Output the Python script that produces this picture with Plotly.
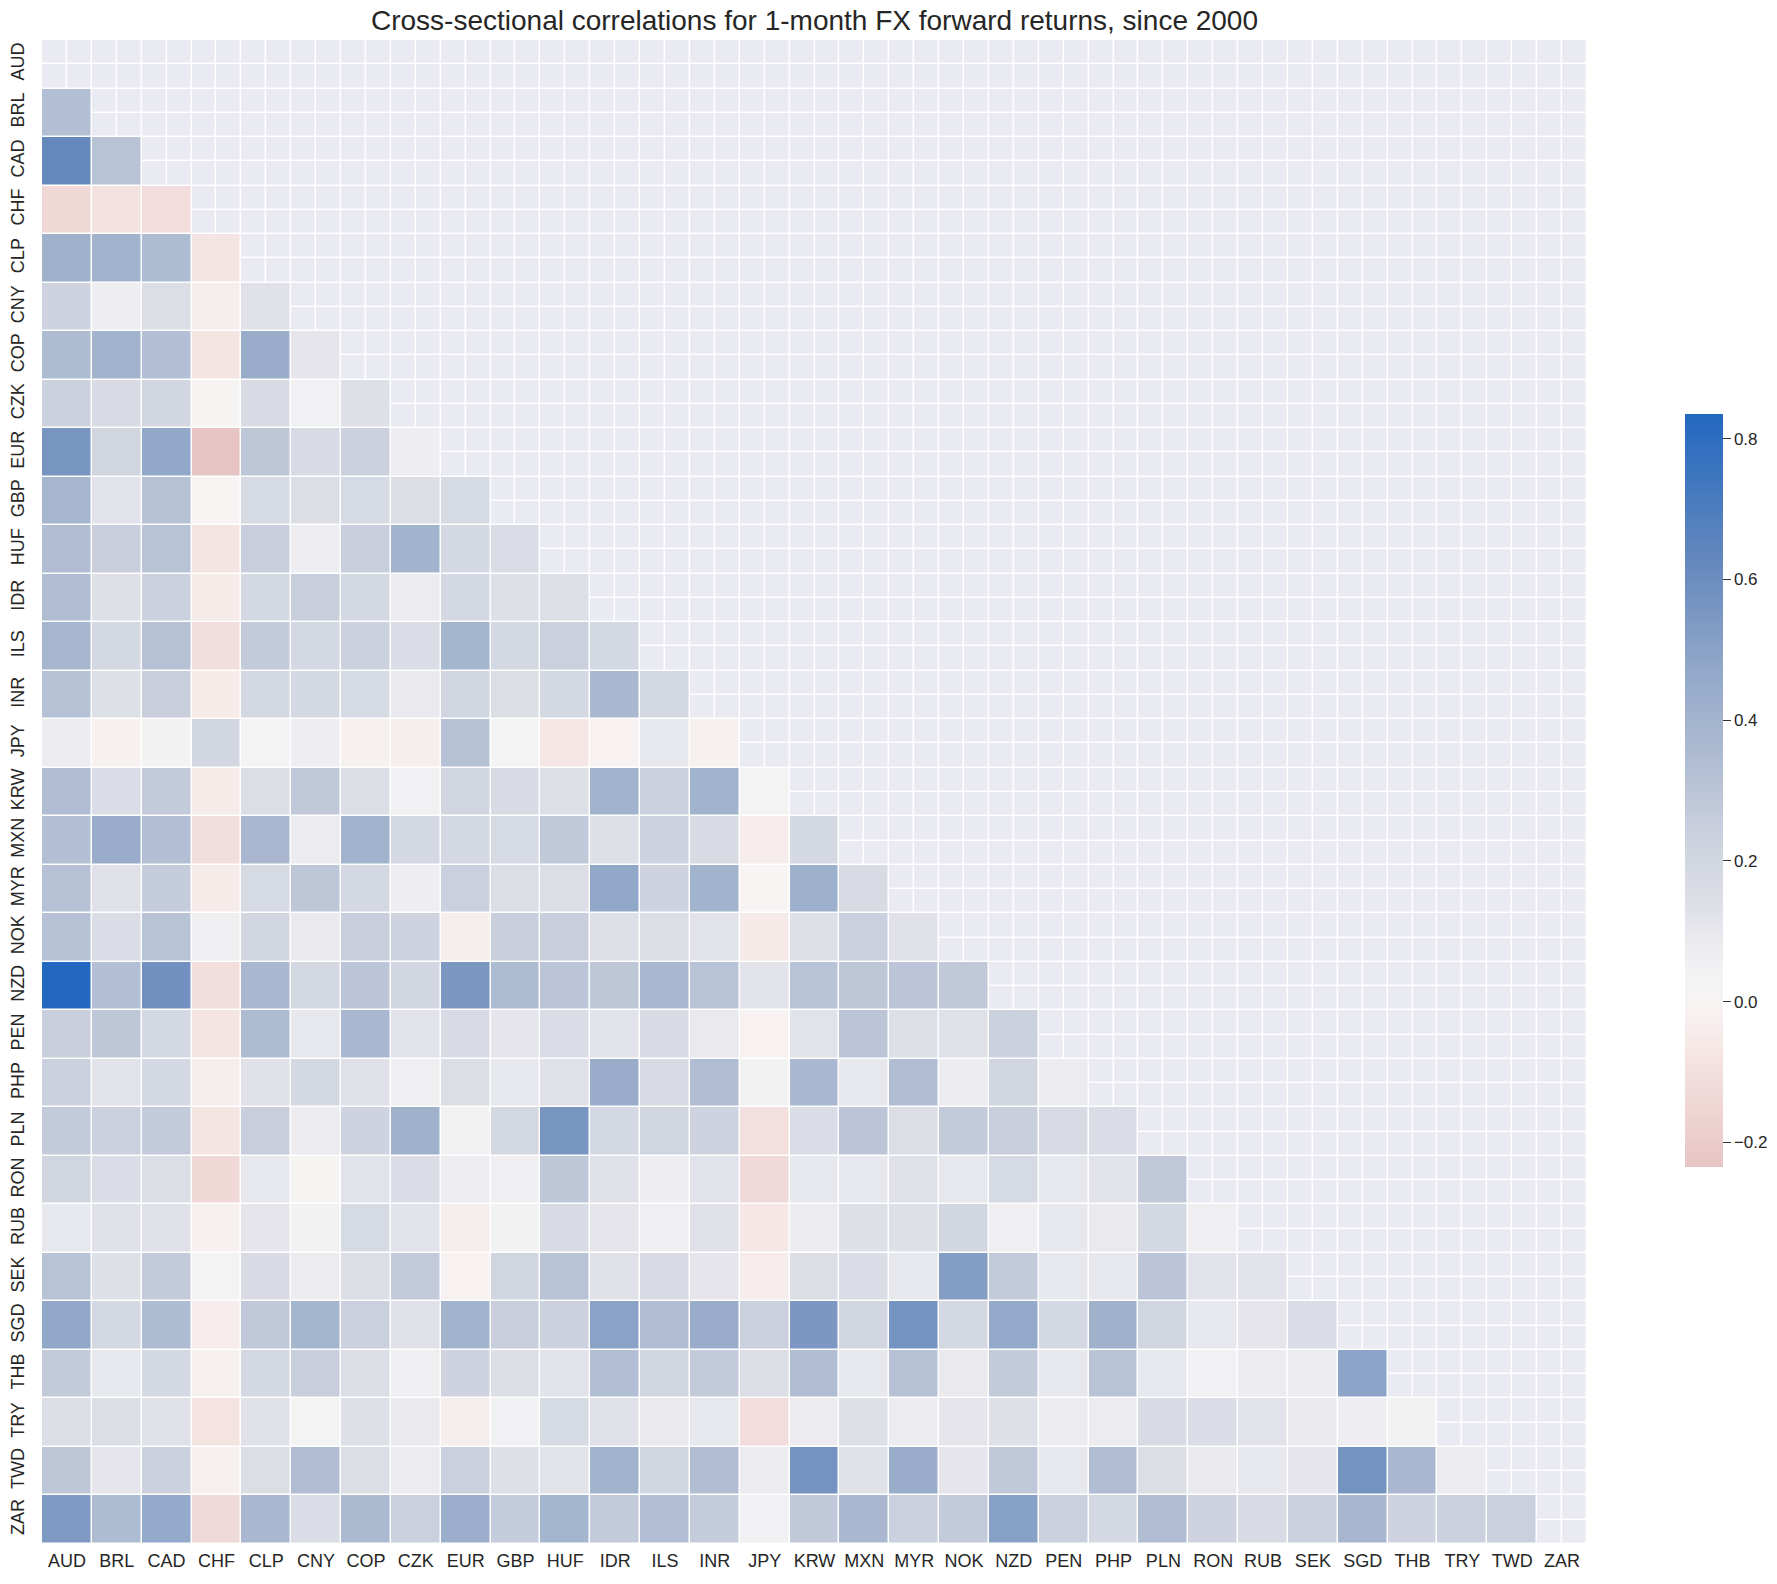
import plotly.graph_objects as go

currencies = ["AUD", "BRL", "CAD", "CHF", "CLP", "CNY", "COP", "CZK", "EUR", "GBP",
              "HUF", "IDR", "ILS", "INR", "JPY", "KRW", "MXN", "MYR", "NOK", "NZD",
              "PEN", "PHP", "PLN", "RON", "RUB", "SEK", "SGD", "THB", "TRY", "TWD", "ZAR"]

# lower-triangle correlations, one list per row (columns AUD.. up to the column before the row)
row_AUD = []
row_BRL = [0.33]
row_CAD = [0.62, 0.31]
row_CHF = [-0.14, -0.09, -0.115]
row_CLP = [0.41, 0.40, 0.35, -0.075]
row_CNY = [0.22, 0.07, 0.15, -0.03, 0.13]
row_COP = [0.35, 0.40, 0.33, -0.075, 0.44, 0.11]
row_CZK = [0.23, 0.17, 0.20, 0.01, 0.17, 0.05, 0.14]
row_EUR = [0.56, 0.21, 0.47, -0.235, 0.29, 0.17, 0.23, 0.07]
row_GBP = [0.38, 0.12, 0.32, 0.0, 0.18, 0.15, 0.18, 0.15, 0.18]
row_HUF = [0.34, 0.25, 0.31, -0.075, 0.25, 0.07, 0.25, 0.40, 0.19, 0.16]
row_IDR = [0.34, 0.14, 0.24, -0.045, 0.19, 0.25, 0.19, 0.08, 0.19, 0.14, 0.14]
row_ILS = [0.38, 0.19, 0.32, -0.105, 0.27, 0.19, 0.23, 0.16, 0.39, 0.19, 0.24, 0.19]
row_INR = [0.32, 0.14, 0.25, -0.047, 0.19, 0.19, 0.18, 0.09, 0.21, 0.15, 0.19, 0.37, 0.19]
row_JPY = [0.08, -0.02, 0.04, 0.20, 0.03, 0.07, -0.02, -0.03, 0.32, 0.03, -0.07, -0.01, 0.10, -0.02]
row_KRW = [0.34, 0.16, 0.27, -0.045, 0.15, 0.28, 0.15, 0.05, 0.21, 0.17, 0.14, 0.40, 0.23, 0.40, 0.03]
row_MXN = [0.33, 0.44, 0.33, -0.105, 0.37, 0.08, 0.40, 0.19, 0.19, 0.18, 0.28, 0.14, 0.22, 0.17, -0.04, 0.19]
row_MYR = [0.32, 0.13, 0.26, -0.045, 0.18, 0.29, 0.19, 0.07, 0.24, 0.15, 0.15, 0.47, 0.22, 0.40, 0.0, 0.42, 0.17]
row_NOK = [0.32, 0.16, 0.31, 0.06, 0.20, 0.09, 0.25, 0.22, -0.03, 0.25, 0.25, 0.14, 0.15, 0.12, -0.05, 0.14, 0.24, 0.13]
row_NZD = [0.835, 0.33, 0.58, -0.105, 0.37, 0.19, 0.30, 0.20, 0.55, 0.35, 0.30, 0.29, 0.37, 0.31, 0.12, 0.31, 0.29, 0.30, 0.28]
row_PEN = [0.25, 0.29, 0.19, -0.075, 0.35, 0.10, 0.37, 0.12, 0.17, 0.11, 0.16, 0.12, 0.17, 0.09, -0.01, 0.12, 0.30, 0.14, 0.13, 0.23]
row_PHP = [0.24, 0.12, 0.19, -0.03, 0.13, 0.19, 0.13, 0.06, 0.15, 0.10, 0.13, 0.44, 0.17, 0.34, 0.04, 0.37, 0.10, 0.34, 0.08, 0.21, 0.08]
row_PLN = [0.27, 0.24, 0.27, -0.08, 0.25, 0.08, 0.22, 0.41, 0.04, 0.19, 0.56, 0.19, 0.21, 0.22, -0.10, 0.16, 0.30, 0.15, 0.27, 0.25, 0.17, 0.16]
row_RON = [0.21, 0.16, 0.15, -0.14, 0.10, 0.01, 0.12, 0.16, 0.07, 0.06, 0.29, 0.13, 0.07, 0.12, -0.13, 0.10, 0.10, 0.13, 0.10, 0.18, 0.10, 0.12, 0.28]
row_RUB = [0.10, 0.13, 0.13, -0.02, 0.11, 0.04, 0.18, 0.12, -0.03, 0.04, 0.17, 0.11, 0.06, 0.13, -0.065, 0.08, 0.14, 0.14, 0.20, 0.06, 0.10, 0.09, 0.19, 0.06]
row_SEK = [0.31, 0.14, 0.27, 0.03, 0.17, 0.08, 0.15, 0.27, -0.01, 0.21, 0.31, 0.13, 0.17, 0.11, -0.04, 0.15, 0.16, 0.10, 0.52, 0.27, 0.10, 0.10, 0.30, 0.12, 0.12]
row_SGD = [0.47, 0.19, 0.35, -0.04, 0.28, 0.39, 0.24, 0.13, 0.40, 0.25, 0.23, 0.50, 0.34, 0.44, 0.24, 0.55, 0.20, 0.57, 0.19, 0.46, 0.19, 0.41, 0.21, 0.10, 0.11, 0.16]
row_THB = [0.27, 0.10, 0.19, -0.02, 0.19, 0.25, 0.15, 0.06, 0.22, 0.15, 0.12, 0.33, 0.20, 0.27, 0.15, 0.34, 0.10, 0.32, 0.09, 0.27, 0.10, 0.31, 0.10, 0.05, 0.08, 0.08, 0.49]
row_TRY = [0.15, 0.15, 0.13, -0.085, 0.13, 0.03, 0.14, 0.09, -0.03, 0.05, 0.18, 0.13, 0.09, 0.10, -0.115, 0.08, 0.14, 0.08, 0.11, 0.14, 0.08, 0.08, 0.17, 0.16, 0.12, 0.09, 0.07, 0.04]
row_TWD = [0.29, 0.11, 0.23, -0.02, 0.15, 0.34, 0.15, 0.08, 0.24, 0.14, 0.12, 0.40, 0.21, 0.34, 0.08, 0.57, 0.13, 0.44, 0.11, 0.28, 0.10, 0.34, 0.15, 0.09, 0.10, 0.11, 0.57, 0.37, 0.08]
row_ZAR = [0.54, 0.35, 0.46, -0.13, 0.37, 0.16, 0.36, 0.24, 0.43, 0.26, 0.39, 0.27, 0.33, 0.26, 0.05, 0.28, 0.37, 0.24, 0.27, 0.51, 0.24, 0.19, 0.34, 0.22, 0.17, 0.23, 0.38, 0.22, 0.24, 0.24]

rows = [row_AUD, row_BRL, row_CAD, row_CHF, row_CLP, row_CNY, row_COP, row_CZK, row_EUR, row_GBP,
        row_HUF, row_IDR, row_ILS, row_INR, row_JPY, row_KRW, row_MXN, row_MYR, row_NOK, row_NZD,
        row_PEN, row_PHP, row_PLN, row_RON, row_RUB, row_SEK, row_SGD, row_THB, row_TRY, row_TWD, row_ZAR]

n = len(currencies)
z = []
for i, r in enumerate(rows):
    vals = list(r)[:i]
    vals = vals + [None] * (i - len(vals))
    z.append(vals + [None] * (n - len(vals)))

zmin, zmax = -0.235, 0.835
anchors = [(-0.235, "#E7C4C4"), (-0.15, "#EFD6D5"), (-0.08, "#F4E4E2"), (0.0, "#F7F4F3"),
           (0.03, "#F4F3F4"), (0.08, "#ECECF0"), (0.13, "#E0E1E8"), (0.19, "#D4D8E2"),
           (0.25, "#C8CEDC"), (0.33, "#B3BFD4"), (0.40, "#A2B3CD"), (0.47, "#92A8C9"),
           (0.55, "#7B97C2"), (0.62, "#6689BD"), (0.835, "#2368C0")]
colorscale = [[(v - zmin) / (zmax - zmin), c] for v, c in anchors]
colorscale[0][0] = 0.0
colorscale[-1][0] = 1.0

# masked region background (half-cell grid like the axes grid)
hx = [-0.25 + 0.5 * k for k in range(2 * n)]
mask_z = [[(1 if (a // 2) <= (b // 2) else None) for b in range(2 * n)] for a in range(2 * n)]

W, H = 1777, 1584
L, T = 42, 40
PW, PH = 1545, 1504

fig = go.Figure()
fig.add_trace(go.Heatmap(x=hx, y=hx, z=mask_z, colorscale=[[0, "#EAEAF2"], [1, "#EAEAF2"]],
                         showscale=False, xgap=1.5, ygap=1.5, hoverinfo="skip"))
fig.add_trace(go.Heatmap(
    x=list(range(n)), y=list(range(n)), z=z, zmin=zmin, zmax=zmax,
    colorscale=colorscale, xgap=1.5, ygap=1.5,
    colorbar=dict(thickness=38, len=753 / PH, lenmode="fraction", y=0.501, yanchor="middle",
                  x=(1685 - 42) / PW, xanchor="left", xpad=0, ypad=0, outlinewidth=0,
                  ticks="outside", ticklen=8, tickwidth=1.3, tickcolor="#333333",
                  tickvals=[-0.2, 0.0, 0.2, 0.4, 0.6, 0.8],
                  ticktext=["\u22120.2", "0.0", "0.2", "0.4", "0.6", "0.8"],
                  tickfont=dict(size=17, color="#262626", family="Liberation Sans, Arial")),
))

font_fam = "Liberation Sans, Arial, sans-serif"
fig.update_layout(
    width=W, height=H,
    margin=dict(l=L, r=W - L - PW, t=T, b=H - T - PH, autoexpand=False),
    plot_bgcolor="white", paper_bgcolor="white",
    title=dict(text="Cross-sectional correlations for 1-month FX forward returns, since 2000",
               x=0.5, xref="paper", xanchor="center", y=1 - 20 / H, yanchor="middle",
               font=dict(size=28, color="#262626", family=font_fam)),
    font=dict(family=font_fam, color="#262626"),
)
fig.update_xaxes(range=[-0.5, n - 0.5], tickvals=list(range(n)), ticktext=currencies,
                 showgrid=False, zeroline=False, ticks="", showline=False,
                 tickfont=dict(size=18, color="#262626"),
                 ticklabelstandoff=4, tickangle=0)
fig.update_yaxes(range=[n - 0.5, -0.5], tickvals=list(range(n)), ticktext=currencies,
                 showgrid=False, zeroline=False, ticks="", showline=False,
                 tickfont=dict(size=18, color="#262626"),
                 ticklabelstandoff=13, tickangle=-90)

fig.write_html("out.html", config={"displayModeBar": False},
               post_script="document.body.style.margin='0px';")
